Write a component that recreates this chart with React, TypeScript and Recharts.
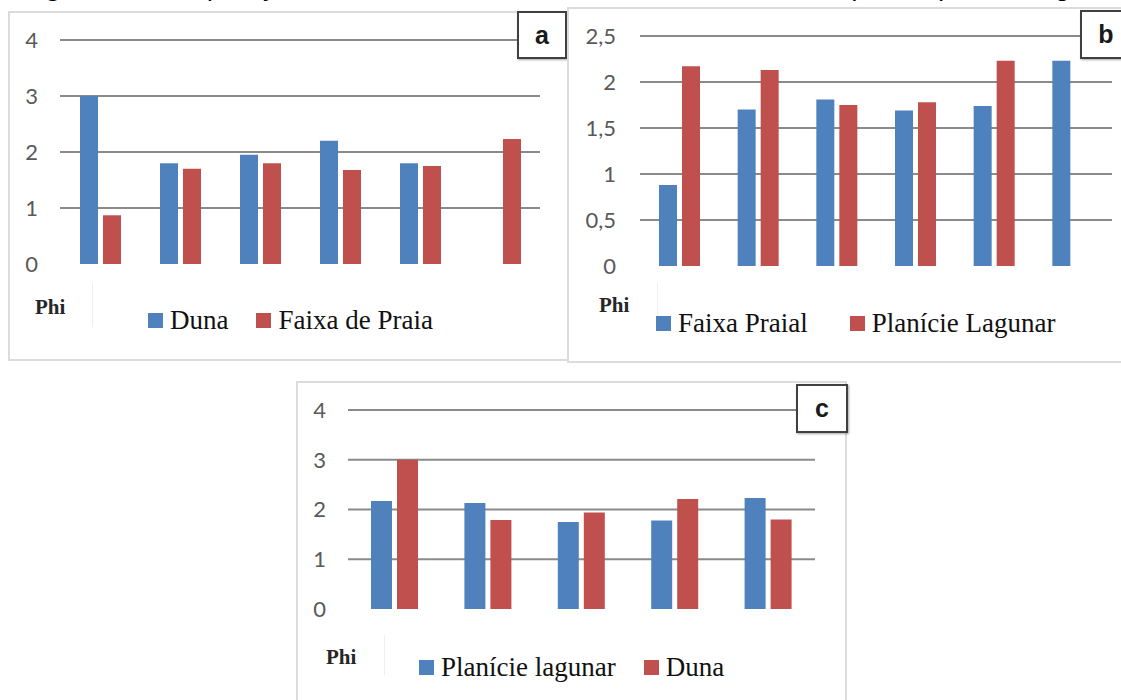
import React from "react"
import { BarChart, Bar, XAxis, YAxis, CartesianGrid } from "recharts"

// painel a: Duna x Faixa de Praia
const pointsA = ["1", "2", "3", "4", "5", "6"]
const dunaA = [3.0, 1.8, 1.95, 2.2, 1.8, null]
const faixaPraiaA = [0.87, 1.7, 1.8, 1.68, 1.75, 2.23]
const ticksA = [0, 1, 2, 3, 4]

// painel b: Faixa Praial x Planície Lagunar
const pointsB = ["1", "2", "3", "4", "5", "6"]
const faixaPraialB = [0.88, 1.7, 1.81, 1.69, 1.74, 2.23]
const planicieLagunarB = [2.17, 2.13, 1.75, 1.78, 2.23, null]
const ticksB = [0, 0.5, 1, 1.5, 2, 2.5]

// painel c: Planície lagunar x Duna
const pointsC = ["1", "2", "3", "4", "5"]
const planicieLagunarC = [2.17, 2.13, 1.75, 1.78, 2.23]
const dunaC = [3.0, 1.79, 1.94, 2.21, 1.8]
const ticksC = [0, 1, 2, 3, 4]

const BLUE = "#4f81bd"
const RED = "#c0504d"
const SERIF = "'Liberation Serif', 'Times New Roman', 'DejaVu Serif', serif"
const SANS = "'Liberation Sans', Arial, sans-serif"

type Serie = { name: string; values: (number | null)[]; color: string }

interface PanelProps {
  letter: string
  categories: string[]
  series: Serie[]
  ticks: number[]
  comma?: boolean
  box: { left: number; top: number; width: number; height: number }
  chart: { x: number; y: number; plotLeft: number; plotRight: number; plotTop: number; plotBottom: number }
  tickMargin: number
  barSize: number
  tag: { left: number; top: number; width: number; height: number }
  phi: { x: number; y: number }
  sep: { x: number; y: number; h: number }
  legend: { x: number; y: number; gap: number }
}

function Panel(p: PanelProps) {
  const data = p.categories.map((name, i) => {
    const row: any = { name }
    p.series.forEach((s, k) => (row["s" + k] = s.values[i]))
    return row
  })
  const bottom = 18
  const width = p.chart.plotRight - p.chart.x
  const height = p.chart.plotBottom - p.chart.y + bottom
  const max = p.ticks[p.ticks.length - 1]

  return (
    <>
      <div
        style={{
          position: "absolute",
          left: p.box.left,
          top: p.box.top,
          width: p.box.width,
          height: p.box.height,
          border: "2px solid #dcdcdc",
          background: "#fff",
          boxSizing: "border-box",
        }}
      />
      <div style={{ position: "absolute", left: p.chart.x, top: p.chart.y }}>
        <BarChart
          width={width}
          height={height}
          data={data}
          barGap={5}
          margin={{ top: p.chart.plotTop - p.chart.y, right: 0, left: 0, bottom }}
        >
          <CartesianGrid vertical={false} stroke="#8a8a8a" strokeWidth={1.8} horizontalValues={p.ticks.slice(1)} />
          <YAxis
            type="number"
            domain={[0, max]}
            ticks={p.ticks}
            interval={0}
            width={p.chart.plotLeft - p.chart.x}
            axisLine={false}
            tickLine={false}
            tickSize={0}
            tickMargin={p.tickMargin}
            tick={{ fill: "#595959", fontSize: 22, fontFamily: "Lato" }}
            tickFormatter={(v: number) => (p.comma ? String(v).replace(".", ",") : String(v))}
          />
          {p.series.map((s, k) => (
            <Bar key={s.name} dataKey={"s" + k} name={s.name} fill={s.color} barSize={p.barSize} isAnimationActive={false} />
          ))}
          <XAxis dataKey="name" height={0} tick={false} tickLine={false} axisLine={{ stroke: "#d9d9d9", strokeWidth: 2 }} />
        </BarChart>
      </div>

      {/* rótulo do painel */}
      <div
        style={{
          position: "absolute",
          left: p.tag.left,
          top: p.tag.top,
          width: p.tag.width,
          height: p.tag.height,
          border: "2px solid #404040",
          background: "#fff",
          boxSizing: "border-box",
          boxShadow: "1px 1px 2px rgba(0,0,0,0.35)",
          display: "flex",
          alignItems: "center",
          justifyContent: "center",
          fontFamily: SANS,
          fontWeight: "bold",
          fontSize: 25,
          color: "#1a1a1a",
        }}
      >
        {p.letter}
      </div>

      <div
        style={{
          position: "absolute",
          left: p.phi.x,
          top: p.phi.y,
          fontFamily: SERIF,
          fontWeight: "bold",
          fontSize: 21,
          lineHeight: "21px",
          color: "#262626",
        }}
      >
        Phi
      </div>
      <div style={{ position: "absolute", left: p.sep.x, top: p.sep.y, width: 1, height: p.sep.h, background: "#efefef" }} />

      {/* legenda */}
      <div
        style={{
          position: "absolute",
          left: p.legend.x,
          top: p.legend.y,
          display: "flex",
          alignItems: "center",
          gap: p.legend.gap,
          fontFamily: SERIF,
          fontSize: 27,
          lineHeight: "30px",
          color: "#111",
          whiteSpace: "nowrap",
        }}
      >
        {p.series.map((s) => (
          <div key={s.name} style={{ display: "flex", alignItems: "center", gap: 7 }}>
            <div style={{ width: 15, height: 15, background: s.color }} />
            <span>{s.name}</span>
          </div>
        ))}
      </div>
    </>
  )
}

export default function App() {
  return (
    <div
      style={{
        position: "absolute",
        left: 0,
        top: 0,
        width: 1121,
        height: 700,
        overflow: "hidden",
        background: "#fff",
      }}
    >
      {/* legenda da figura, cortada no topo */}
      <div
        style={{
          position: "absolute",
          left: 22,
          top: -28,
          fontFamily: SANS,
          fontSize: 26,
          lineHeight: "30px",
          color: "#000",
          whiteSpace: "nowrap",
        }}
      >
        <b>Figura 4 – </b>Comparação da média dos diâmetros das amostras, entre a praia e planície lagunar
      </div>

      <Panel
        letter="a"
        categories={pointsA}
        series={[
          { name: "Duna", values: dunaA, color: BLUE },
          { name: "Faixa de Praia", values: faixaPraiaA, color: RED },
        ]}
        ticks={ticksA}
        box={{ left: 8, top: 11, width: 561, height: 350 }}
        chart={{ x: 10, y: 20, plotLeft: 60, plotRight: 540, plotTop: 40, plotBottom: 264 }}
        tickMargin={22}
        barSize={18}
        tag={{ left: 517, top: 11, width: 50, height: 48 }}
        phi={{ x: 35, y: 297 }}
        sep={{ x: 92, y: 283, h: 44 }}
        legend={{ x: 148, y: 305, gap: 28 }}
      />

      <Panel
        letter="b"
        categories={pointsB}
        series={[
          { name: "Faixa Praial", values: faixaPraialB, color: BLUE },
          { name: "Planície Lagunar", values: planicieLagunarB, color: RED },
        ]}
        ticks={ticksB}
        comma
        box={{ left: 567, top: 7, width: 580, height: 356 }}
        chart={{ x: 575, y: 16, plotLeft: 640, plotRight: 1112, plotTop: 36, plotBottom: 266 }}
        tickMargin={24}
        barSize={18}
        tag={{ left: 1080, top: 10, width: 52, height: 49 }}
        phi={{ x: 599, y: 295 }}
        sep={{ x: 657, y: 283, h: 46 }}
        legend={{ x: 656, y: 308, gap: 42 }}
      />

      <Panel
        letter="c"
        categories={pointsC}
        series={[
          { name: "Planície lagunar", values: planicieLagunarC, color: BLUE },
          { name: "Duna", values: dunaC, color: RED },
        ]}
        ticks={ticksC}
        box={{ left: 296, top: 381, width: 551, height: 340 }}
        chart={{ x: 300, y: 390, plotLeft: 348, plotRight: 815, plotTop: 410, plotBottom: 609 }}
        tickMargin={22}
        barSize={21}
        tag={{ left: 796, top: 384, width: 52, height: 49 }}
        phi={{ x: 326, y: 647 }}
        sep={{ x: 384, y: 635, h: 40 }}
        legend={{ x: 419, y: 652, gap: 28 }}
      />
    </div>
  )
}
